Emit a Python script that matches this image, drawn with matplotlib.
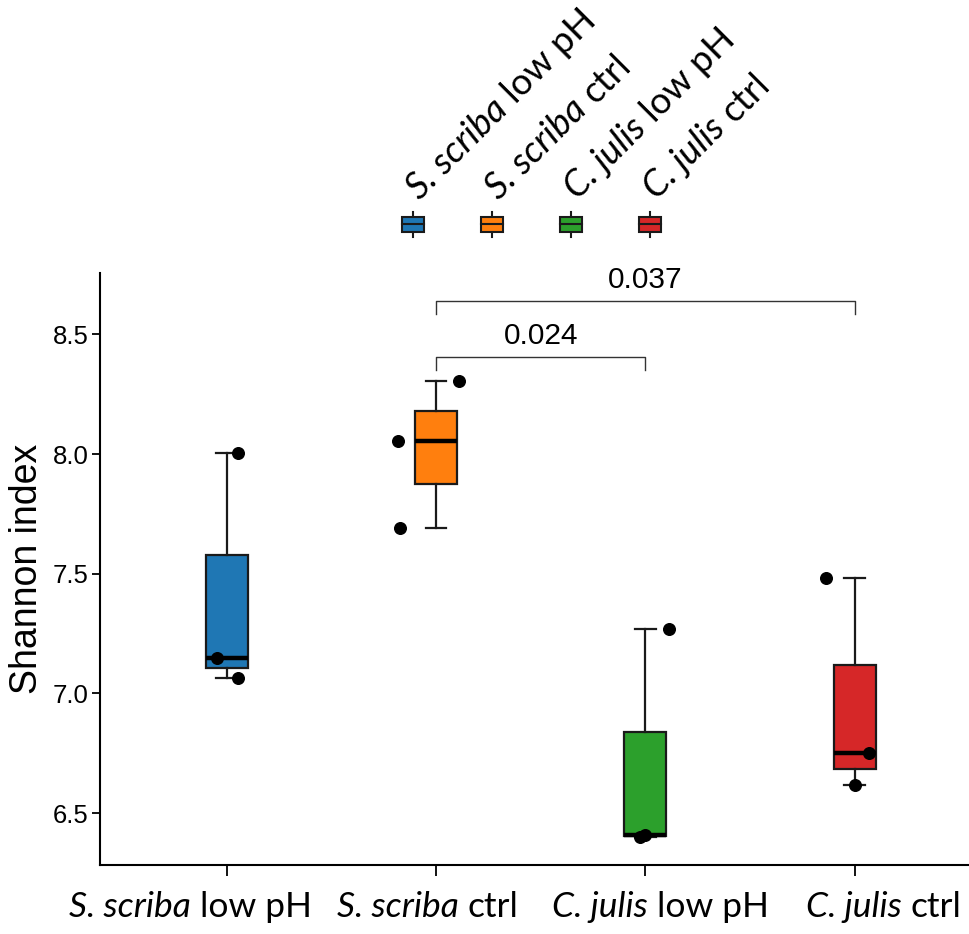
import matplotlib
matplotlib.use("Agg")
import numpy as np
import matplotlib.pyplot as plt
from matplotlib.patches import Rectangle
from matplotlib.transforms import ScaledTranslation

plt.rcParams['font.family'] = ['Liberation Sans', 'DejaVu Sans']

# data
species = ['S. scriba', 'S. scriba', 'C. julis', 'C. julis']
treatment = ['low pH', 'ctrl', 'low pH', 'ctrl']
colors = ['#1f77b4', '#ff7f0e', '#2ca02c', '#d62728']

ss_low = [8.005, 7.150, 7.066]
ss_ctrl = [8.305, 8.056, 7.693]
cj_low = [7.268, 6.408, 6.398]
cj_ctrl = [7.484, 6.750, 6.618]
values = [ss_low, ss_ctrl, cj_low, cj_ctrl]

# horizontal jitter of the points (category units)
jitter = [[0.054, -0.046, 0.054],
          [0.11, -0.18, -0.17],
          [0.113, 0.0, -0.025],
          [-0.137, 0.068, 0.0]]

# pairwise comparisons: (group a, group b, p-value, bracket height)
comparisons = [(1, 2, '0.024', 8.407), (1, 3, '0.037', 8.641)]

# the x labels in the original are not quite centred on their ticks (px)
label_shift = [-36, -8, 15, 29]

LAB_FONT = 'Lato'

fig = plt.figure(figsize=(9.7, 9.34), dpi=100)
renderer = fig.canvas.get_renderer()


def text_width(s, style, size):
    t = fig.text(0, 0, s, fontsize=size, fontfamily=LAB_FONT, style=style)
    w = t.get_window_extent(renderer).width
    t.remove()
    return w


def species_label(ax, x, y, trans, sp, tr, size, rotation=0, centre=False, dx=0, dy=0):
    # italic species name followed by upright treatment, as one label
    space_w = text_width('x x', 'normal', size) - text_width('xx', 'normal', size)
    w1 = text_width(sp, 'italic', size)
    w2 = text_width(tr, 'normal', size)
    total = w1 + space_w + w2
    start = -total / 2 if centre else 0
    c, s = np.cos(np.radians(rotation)), np.sin(np.radians(rotation))
    for txt, style, off in [(sp, 'italic', start), (tr, 'normal', start + w1 + space_w)]:
        shift = ScaledTranslation((dx + off * c) / fig.dpi, (dy + off * s) / fig.dpi,
                                  fig.dpi_scale_trans)
        ax.text(x, y, txt, transform=trans + shift, rotation=rotation,
                rotation_mode='anchor', ha='left', va='baseline',
                fontsize=size, fontfamily=LAB_FONT, style=style, clip_on=False)


ax = fig.add_axes([100 / 970, 1 - 865 / 934, 870 / 970, (865 - 273) / 934])

pos = list(range(len(values)))
bp = ax.boxplot(values, positions=pos, widths=0.2, patch_artist=True,
                showfliers=False, capwidths=0.1,
                boxprops=dict(edgecolor='#1a1a1a', linewidth=1.6),
                whiskerprops=dict(color='#1a1a1a', linewidth=1.6),
                capprops=dict(color='#1a1a1a', linewidth=1.6),
                medianprops=dict(color='black', linewidth=3.2))
for patch, c in zip(bp['boxes'], colors):
    patch.set_facecolor(c)

for i, (vals, jit) in enumerate(zip(values, jitter)):
    ax.scatter([i + j for j in jit], vals, s=70, color='black', zorder=5)

for a, b, p, h in comparisons:
    ax.plot([a, a, b, b], [h - 0.055, h, h, h - 0.055], color='#333333', lw=1.0)
    ax.text((a + b) / 2, h + 0.027, p, ha='center', va='bottom', fontsize=21.5)

ax.set_xlim(-0.605, 3.551)
ax.set_ylim(6.283, 8.757)
ax.set_yticks([6.5, 7.0, 7.5, 8.0, 8.5])
ax.set_yticklabels(['6.5', '7.0', '7.5', '8.0', '8.5'])
ax.set_xticks(pos)
ax.set_xticklabels([''] * len(pos))
ax.tick_params(axis='y', labelsize=18.5, length=6, width=1.3, pad=2)
ax.tick_params(axis='x', length=8, width=1.3)
ax.set_ylabel('Shannon index', fontsize=27, labelpad=6)
for s in ['top', 'right']:
    ax.spines[s].set_visible(False)
for s in ['left', 'bottom']:
    ax.spines[s].set_linewidth(1.5)

# x category labels (italic genus/species)
for i, (sp, tr, sh) in enumerate(zip(species, treatment, label_shift)):
    species_label(ax, i, 0, ax.get_xaxis_transform(), sp, tr, 25.5,
                  centre=True, dx=sh, dy=-52)

# legend on top with rotated labels
lg = fig.add_axes([(413 - 39.5) / 970, 1 - 245 / 934, 4 * 79 / 970, 45 / 934])
lg.set_xlim(-0.5, 3.5)
lg.set_ylim(0, 45)
lg.axis('off')
for i, (sp, tr, c) in enumerate(zip(species, treatment, colors)):
    lg.plot([i, i], [7.7, 33.3], color='#1a1a1a', lw=1.5)
    lg.add_patch(Rectangle((i - 0.145, 13.5), 0.29, 15, facecolor=c,
                           edgecolor='#1a1a1a', lw=1.5, zorder=3))
    lg.plot([i - 0.145, i + 0.145], [21, 21], color='#1a1a1a', lw=1.5, zorder=4)
    species_label(lg, i, 45, lg.transData, sp, tr, 26.5, rotation=45, dx=7, dy=-1)

fig.savefig('out.png', dpi=100)
